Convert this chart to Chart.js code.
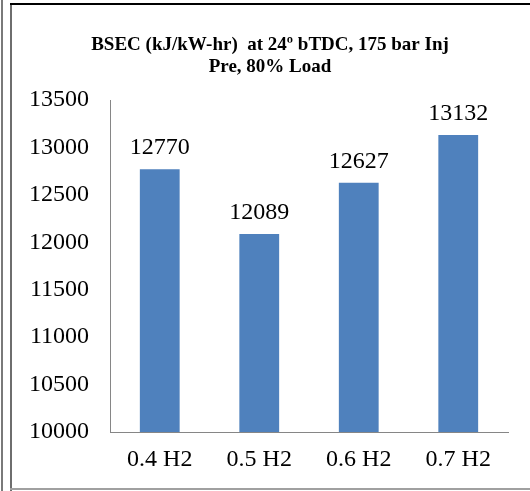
<!DOCTYPE html>
<html>
<head>
<meta charset="utf-8">
<script src="https://cdn.jsdelivr.net/npm/chart.js@4/dist/chart.umd.min.js"></script>
<style>
  body { margin: 0; background: #fff; }
  #wrap { position: relative; width: 530px; height: 491px; }
  canvas { position: absolute; left: 0; top: 0; }
  .line { position: absolute; }
</style>
</head>
<body>
<div id="wrap">
  <canvas id="chart" width="530" height="491"></canvas>
  <!-- frame lines round the chart -->
  <div class="line" style="left:1px;top:0;width:2px;height:491px;background:#7a7a7a"></div>
  <div class="line" style="left:10px;top:3px;width:2px;height:488px;background:#6e6e6e"></div>
  <div class="line" style="left:10px;top:3px;width:520px;height:2px;background:#000"></div>
  <div class="line" style="left:10px;top:488px;width:520px;height:2px;background:#a0a0a0"></div>
</div>
<script>
const categories = ['0.4 H2', '0.5 H2', '0.6 H2', '0.7 H2'];
const bsec = [12770, 12089, 12627, 13132];
const titleLines = ['BSEC (kJ/kW-hr)  at 24\u00BA bTDC, 175 bar Inj', 'Pre, 80% Load'];
const yMin = 10000;
const yMax = 13500;
const yStep = 500;

const serif = '"Liberation Serif", "Times New Roman", serif';

// numbers above the bars
const valueLabels = {
  id: 'valueLabels',
  afterDatasetsDraw(chart) {
    const ctx = chart.ctx;
    const meta = chart.getDatasetMeta(0);
    ctx.save();
    ctx.font = '24px ' + serif;
    ctx.fillStyle = '#000';
    ctx.textAlign = 'center';
    ctx.textBaseline = 'alphabetic';
    meta.data.forEach((bar, i) => {
      ctx.fillText(String(bsec[i]), bar.x, bar.y - 15);
    });
    ctx.restore();
  }
};

new Chart(document.getElementById('chart'), {
  type: 'bar',
  data: {
    labels: categories,
    datasets: [{
      data: bsec,
      backgroundColor: '#4F81BD',
      borderWidth: 0,
      barPercentage: 1,
      categoryPercentage: 0.4
    }]
  },
  options: {
    responsive: false,
    animation: false,
    devicePixelRatio: 1,
    layout: { padding: { top: 26, left: 10, right: 0, bottom: 0 } },
    plugins: {
      legend: { display: false },
      tooltip: { enabled: false },
      title: {
        display: true,
        text: titleLines,
        color: '#000',
        font: { family: serif, size: 19, weight: 'bold', lineHeight: 1.16 },
        padding: { top: 8, bottom: 22 }
      }
    },
    scales: {
      x: {
        grid: { display: false, drawTicks: false },
        border: { display: true, color: '#868686', width: 1 },
        ticks: { color: '#000', font: { family: serif, size: 24 }, padding: 13, maxRotation: 0 },
        afterFit: (s) => { s.height = 59; }
      },
      y: {
        min: yMin,
        max: yMax,
        grid: { display: false, drawTicks: false },
        border: { display: true, color: '#868686', width: 1 },
        ticks: {
          stepSize: yStep,
          color: '#000',
          font: { family: serif, size: 24 },
          padding: 21,
          callback: (v) => String(v)
        },
        afterFit: (s) => { s.width = 100; }
      },
      // empty right-hand box so the plot ends where the original does
      y2: {
        position: 'right',
        display: true,
        grid: { display: false, drawTicks: false },
        border: { display: false },
        ticks: { display: false },
        afterFit: (s) => { s.width = 22; }
      }
    }
  },
  plugins: [valueLabels]
});
</script>
</body>
</html>
